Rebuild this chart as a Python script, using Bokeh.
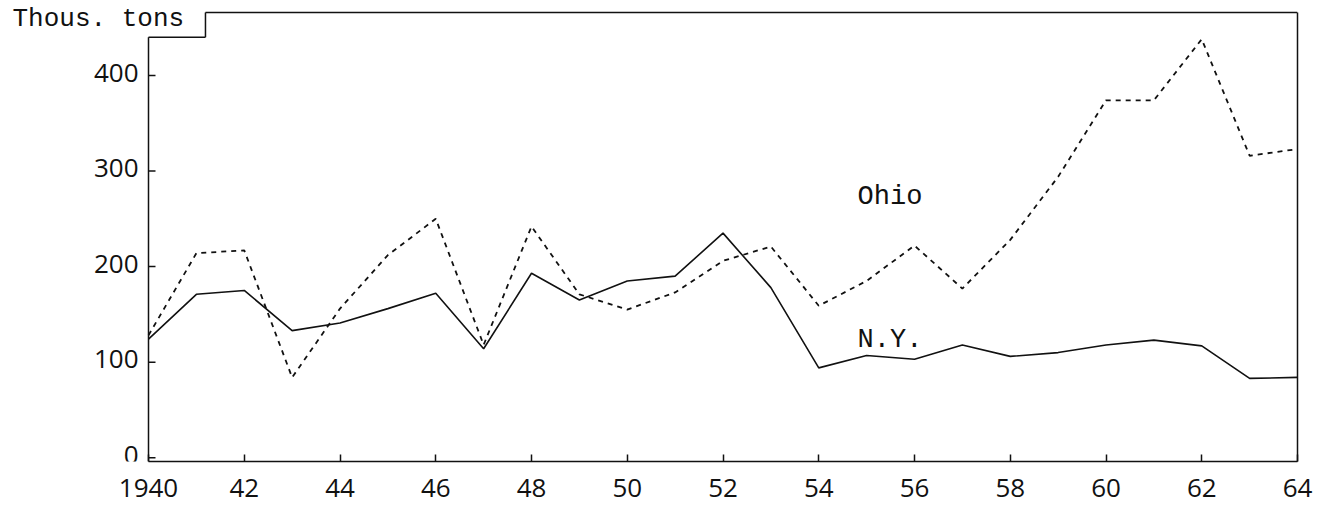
from bokeh.plotting import figure
from bokeh.models import Label, LinearAxis, Range1d, FixedTicker
from bokeh.core.properties import value
from bokeh.embed import file_html
from bokeh.resources import INLINE

# ---- data (thousand tons) ----
years = list(range(1940, 1965))
ny = [124, 171, 175, 133, 141, 156, 172, 114, 193, 165, 185, 190, 235, 178,
      94, 107, 103, 118, 106, 110, 118, 123, 117, 83, 84]
ohio = [128, 214, 217, 84, 156, 212, 250, 118, 242, 171, 155, 173, 206, 221,
        159, 185, 222, 177, 228, 294, 374, 374, 438, 316, 323]

x_ticks = [1940, 1942, 1944, 1946, 1948, 1950, 1952, 1954, 1956, 1958, 1960, 1962, 1964]
x_tick_labels = ["1940", "42", "44", "46", "48", "50", "52", "54", "56", "58", "60", "62", "64"]
y_ticks = [0, 100, 200, 300, 400]
y_tick_labels = ["0", "100", "200", "300", "400"]
y_label = "Thous. tons"

# ---- layout constants ----
W, H = 1315, 510
AXIS_PX, RIGHT_PX = 148, 1297          # pixel positions of the 1940 axis and the right frame edge
XA, X1 = 1940, 1964
PX_PER_YEAR = (RIGHT_PX - AXIS_PX) / (X1 - XA)
X0 = XA - AXIS_PX / PX_PER_YEAR       # frame starts at the canvas left edge
Y0, Y1 = -4, 478.5                     # frame spans the full canvas height above the x axis
TOP_Y = 466                            # level of the top frame line
NOTCH_X, NOTCH_Y = 1941.19, 440
TICK_LEN = 7 / PX_PER_YEAR

NUM_FONT = "Open Sans"
TYPE_FONT = "Liberation Mono"
INK = "#111111"

p = figure(width=W, height=H,
           x_range=Range1d(X0, X1), y_range=Range1d(Y0, Y1),
           output_backend="svg", toolbar_location=None,
           y_axis_location=None,
           min_border_left=0, min_border_right=W - RIGHT_PX,
           min_border_top=0, min_border_bottom=49)
p.outline_line_color = None
p.grid.visible = False
p.background_fill_color = "white"
p.border_fill_color = "white"

# bottom axis
xa = p.xaxis[0]
xa.bounds = (XA, X1)
xa.ticker = FixedTicker(ticks=x_ticks)
xa.major_label_overrides = {t: l for t, l in zip(x_ticks, x_tick_labels)}
xa.major_tick_in = 7
xa.major_tick_out = 0
xa.minor_tick_line_color = None
xa.axis_line_color = INK
xa.axis_line_width = 1.5
xa.major_tick_line_color = INK
xa.major_tick_line_width = 1.5
xa.major_label_standoff = 17
xa.major_label_text_font = NUM_FONT
xa.major_label_text_font_size = "26px"
xa.major_label_text_color = INK

# right frame line
right_axis = LinearAxis(bounds=(Y0, TOP_Y), ticker=FixedTicker(ticks=[]),
                        major_tick_line_color=None, minor_tick_line_color=None,
                        major_label_text_font_size="0px", major_label_standoff=0,
                        axis_line_color=INK, axis_line_width=1.5)
p.add_layout(right_axis, "right")

# value axis at 1940 (drawn inside the frame so the unit label can overlap it)
p.segment(x0=[XA], y0=[Y0], x1=[XA], y1=[NOTCH_Y], line_color=INK, line_width=1.5)
p.segment(x0=[XA] * len(y_ticks), y0=y_ticks, x1=[XA + TICK_LEN] * len(y_ticks), y1=y_ticks,
          line_color=INK, line_width=1.5)
p.text(x=[XA] * len(y_ticks), y=y_ticks, text=y_tick_labels, x_offset=-10, y_offset=-3,
       text_align="right", text_baseline="middle", text_font=value(NUM_FONT),
       text_font_size="26px", text_color=INK)

# top frame line with the notch around the unit label
p.segment(x0=[XA, NOTCH_X, NOTCH_X], y0=[NOTCH_Y, NOTCH_Y, TOP_Y],
          x1=[NOTCH_X, NOTCH_X, X1], y1=[NOTCH_Y, TOP_Y, TOP_Y],
          line_color=INK, line_width=1.5)

# series
p.line(years, ny, line_color=INK, line_width=1.6)
p.line(years, ohio, line_color=INK, line_width=1.8, line_dash="5 5")

# texts
p.add_layout(Label(x=XA - (AXIS_PX - 12) / PX_PER_YEAR, y=459, text=y_label, text_font=TYPE_FONT,
                   text_font_size="26px", text_baseline="middle", text_align="left",
                   text_color=INK))
p.add_layout(Label(x=1954.81, y=273, text="Ohio", text_font=TYPE_FONT,
                   text_font_size="27px", text_baseline="middle", text_align="left",
                   text_color=INK))
p.add_layout(Label(x=1954.81, y=123, text="N.Y.", text_font=TYPE_FONT,
                   text_font_size="27px", text_baseline="middle", text_align="left",
                   text_color=INK))

open("out.html", "w").write(file_html(p, INLINE))
